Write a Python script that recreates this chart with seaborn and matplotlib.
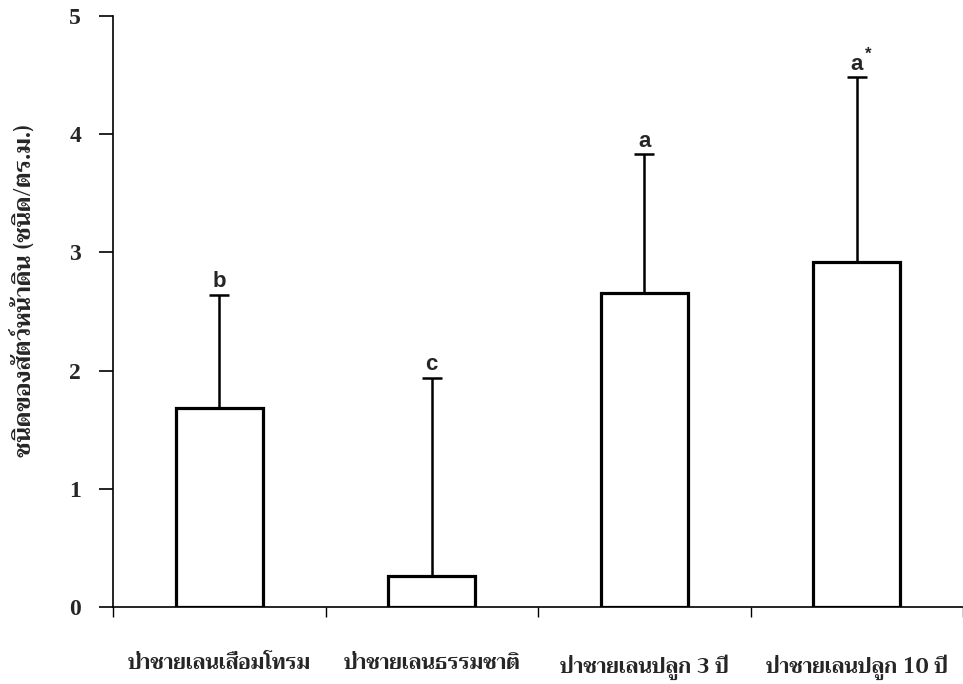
import matplotlib
matplotlib.use("Agg")
import matplotlib.pyplot as plt
from matplotlib import font_manager
from matplotlib.ft2font import FT2Font
import seaborn as sns
import pandas as pd

# Mangrove forest types and macrobenthos species richness (species per m^2)
sites = ["ป่าชายเลนเสื่อมโทรม", "ป่าชายเลนธรรมชาติ", "ป่าชายเลนปลูก 3 ปี", "ป่าชายเลนปลูก 10 ปี"]
means = [1.68, 0.26, 2.66, 2.92]
upper_err = [0.96, 1.68, 1.17, 1.56]
letters = ["b", "c", "a", "a*"]
yticks = [0, 1, 2, 3, 4, 5]
ylabel = "ชนิดของสัตว์หน้าดิน (ชนิด/ตร.ม.)"


def find_thai_family():
    """Pick an installed font that has Thai glyphs, preferring a bold face."""
    found = []
    for f in font_manager.fontManager.ttflist:
        try:
            ft = FT2Font(f.fname)
            if ft.get_char_index(ord("ก")) and ft.get_char_index(ord("ป")):
                w = f.weight if isinstance(f.weight, int) else (700 if "bold" in str(f.weight).lower() else 400)
                found.append((w >= 600, f.name))
        except Exception:
            continue
    if not found:
        return "DejaVu Sans"
    found.sort(reverse=True)
    return found[0][1]


thai = find_thai_family()

sns.set_theme(style="ticks")
plt.rcParams["font.family"] = ["DejaVu Sans"]

fig = plt.figure(figsize=(9.63, 6.84), dpi=100)
ax = fig.add_axes([113 / 963, 77 / 684, (963 - 113) / 963, 591 / 684])

df = pd.DataFrame({"site": sites, "richness": means})
sns.barplot(data=df, x="site", y="richness", color="white", saturation=1,
            edgecolor="black", linewidth=2.3, width=0.41, ax=ax, zorder=3)

xpos = list(range(len(sites)))
ax.errorbar(xpos, means, yerr=[[0] * len(means), upper_err], fmt="none",
            ecolor="black", elinewidth=1.8, capsize=7, capthick=1.8, zorder=2)

# significance letters above each error cap
for x, m, e, lab in zip(xpos, means, upper_err, letters):
    base = lab.rstrip("*")
    ax.annotate(base, (x, m + e), xytext=(0, 2), textcoords="offset points",
                ha="center", va="bottom", fontsize=16, fontweight="bold",
                family=["Liberation Sans", "DejaVu Sans"])
    if lab.endswith("*"):
        ax.annotate("*", (x, m + e), xytext=(8, 11), textcoords="offset points",
                    ha="center", va="bottom", fontsize=12, fontweight="bold",
                    family=["Liberation Sans", "DejaVu Sans"])

ax.set_xlim(-0.5, 3.5 - 6 / 214)
ax.set_ylim(0, 5)

ax.set_yticks(yticks)
ax.set_yticklabels([str(t) for t in yticks], fontsize=17, fontweight="bold",
                   family=["Liberation Serif", "DejaVu Serif"])
ax.tick_params(axis="y", direction="out", length=10, width=1.2, color="black", pad=13)

ax.set_xticks(xpos)
ax.set_xticklabels(sites, fontsize=15, fontweight="bold", family=[thai, "DejaVu Sans"])
ax.tick_params(axis="x", which="major", length=0, pad=34)
ax.set_xticks([-0.5, 0.5, 1.5, 2.5, 3.5], minor=True)
ax.tick_params(axis="x", which="minor", direction="out", length=7, width=1.0, color="black")

ax.set_xlabel("")
ax.set_ylabel(ylabel, fontsize=17, fontweight="bold", family=[thai, "DejaVu Sans"])
ax.yaxis.set_label_coords(-76 / 850, 0.535)

for side in ("top", "right"):
    ax.spines[side].set_visible(False)
for side in ("left", "bottom"):
    ax.spines[side].set_linewidth(1.2)
    ax.spines[side].set_color("black")

fig.savefig("out.png", dpi=100, facecolor="white")
